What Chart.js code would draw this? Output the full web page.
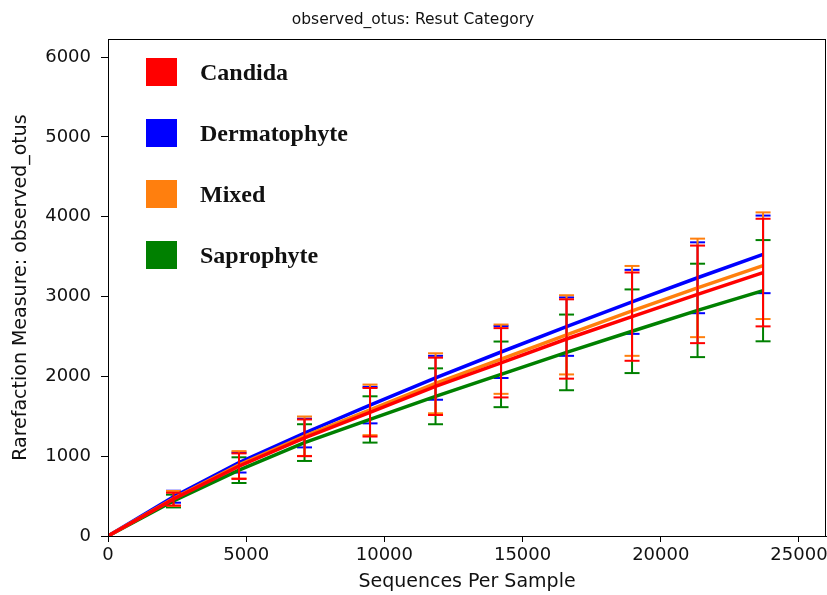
<!DOCTYPE html>
<html>
<head>
<meta charset="utf-8">
<script src="https://cdn.jsdelivr.net/npm/chart.js@4.4.0/dist/chart.umd.min.js"></script>
<style>
  body { margin: 0; background: #fff; }
  #wrap { position: relative; width: 827px; height: 595px; }
  #legend { position: absolute; left: 146px; top: 58px; font: bold 24px "Liberation Serif", "Times New Roman", serif; color: #111; }
  .row { position: absolute; left: 0; height: 28px; white-space: nowrap; }
  .sw { position: absolute; left: 0; top: 0; width: 31px; height: 28px; }
  .lb { position: absolute; left: 54px; top: 0; line-height: 28px; }
</style>
</head>
<body>
<div id="wrap">
  <canvas id="myChart" width="827" height="595"></canvas>
  <div id="legend"></div>
</div>
<script>
// rarefaction curves, one per result category, mean +/- error at each depth
var depths = [0, 2370, 4740, 7110, 9480, 11850, 14220, 16590, 18960, 21330, 23700];

var labels = ["Candida", "Dermatophyte", "Mixed", "Saprophyte"];
var colors = ["#ff0000", "#0000ff", "#ff7f0e", "#008000"];

var candidaMean = [0, 462, 875, 1230, 1550, 1875, 2170, 2468, 2748, 3027, 3300];
var candidaErr = [0, 80, 160, 230, 304, 359, 434, 497, 553, 611, 674];

var dermatophyteMean = [0, 492, 920, 1290, 1640, 1982, 2305, 2623, 2933, 3235, 3528];
var dermatophyteErr = [0, 75, 125, 180, 229, 275, 326, 366, 401, 444, 486];

var mixedMean = [0, 470, 892, 1250, 1580, 1913, 2215, 2520, 2820, 3108, 3386];
var mixedErr = [0, 94, 171, 247, 317, 376, 434, 496, 563, 617, 668];

var saprophyteMean = [0, 438, 825, 1170, 1460, 1750, 2025, 2300, 2565, 2826, 3073];
var saprophyteErr = [0, 80, 161, 230, 290, 350, 411, 474, 524, 585, 634];

var xTicks = [0, 5000, 10000, 15000, 20000, 25000];
var yTicks = [0, 1000, 2000, 3000, 4000, 5000, 6000];

var means = [candidaMean, dermatophyteMean, mixedMean, saprophyteMean];
var errs = [candidaErr, dermatophyteErr, mixedErr, saprophyteErr];

// draw order: lower = on top
var lineOrder = [1, 3, 2, 4];
var barOrder = [0, 6, 5, 7];

function meanPoints(m) {
	var pts = [];
	for (let i = 0; i < depths.length; i++) pts.push({x: depths[i], y: m[i]});
	return pts;
}

// vertical error segments, broken by null so each depth is its own piece
function errPoints(m, e) {
	var pts = [];
	for (let i = 1; i < depths.length; i++) {
		pts.push({x: depths[i], y: m[i] - e[i]});
		pts.push({x: depths[i], y: m[i] + e[i]});
		pts.push({x: depths[i], y: null});
	}
	return pts;
}

var datasets = [];
for (let s = 0; s < labels.length; s++) {
	datasets.push({
		label: labels[s],
		data: meanPoints(means[s]),
		borderColor: colors[s],
		backgroundColor: colors[s],
		borderWidth: 3.5,
		pointRadius: 0,
		tension: 0,
		fill: false,
		order: lineOrder[s]
	});
	datasets.push({
		label: labels[s] + " err",
		data: errPoints(means[s], errs[s]),
		borderColor: colors[s],
		backgroundColor: colors[s],
		borderWidth: 2,
		pointStyle: 'line',
		pointRadius: 7.5,
		pointBorderWidth: 2,
		pointBorderColor: colors[s],
		spanGaps: false,
		fill: false,
		order: barOrder[s]
	});
}

// legend inside the plot, built from the labels
var legend = document.getElementById('legend');
for (let s = 0; s < labels.length; s++) {
	const row = document.createElement('div');
	row.className = 'row';
	row.style.top = (s * 61) + 'px';
	const sw = document.createElement('div');
	sw.className = 'sw';
	sw.style.background = colors[s];
	const lb = document.createElement('div');
	lb.className = 'lb';
	lb.textContent = labels[s];
	row.appendChild(sw);
	row.appendChild(lb);
	legend.appendChild(row);
}

const frame = {
	id: 'frame',
	afterDraw(chart) {
		const a = chart.chartArea;
		const ctx = chart.ctx;
		ctx.save();
		ctx.strokeStyle = '#000';
		ctx.lineWidth = 1;
		ctx.strokeRect(a.left + 0.5, a.top + 0.5, a.right - a.left - 1, a.bottom - a.top);
		ctx.restore();
	}
};

var tickFont = {family: "DejaVu Sans", size: 18};
var titleFont = {family: "DejaVu Sans", size: 19};

new Chart(document.getElementById('myChart'), {
	type: 'line',
	data: {datasets: datasets},
	plugins: [frame],
	options: {
		responsive: false,
		animation: false,
		layout: {autoPadding: false, padding: {left: 0, right: 1, top: 0, bottom: 0}},
		plugins: {
			legend: {display: false},
			tooltip: {enabled: false},
			title: {
				display: true,
				text: "observed_otus: Resut Category",
				color: '#111',
				font: {family: "DejaVu Sans", size: 15.5, weight: 'normal'},
				padding: {top: 11, bottom: 9.4}
			}
		},
		scales: {
			x: {
				type: 'linear',
				min: 0,
				max: 25977,
				afterBuildTicks: (sc) => { sc.ticks = xTicks.map(v => ({value: v})); },
				afterFit: (sc) => { sc.height = 59; sc.paddingRight = 0; },
				ticks: {color: '#111', font: tickFont, padding: 3, maxRotation: 0, autoSkip: false, callback: (v) => String(v)},
				grid: {drawOnChartArea: false, drawTicks: true, tickLength: 6, color: '#000'},
				border: {color: '#000', width: 1},
				title: {display: true, text: "Sequences Per Sample", color: '#111', font: titleFont, padding: {top: 0, bottom: 1.6}}
			},
			y: {
				min: 0,
				max: 6226,
				afterBuildTicks: (sc) => { sc.ticks = yTicks.map(v => ({value: v})); },
				afterFit: (sc) => { sc.width = 108; },
				ticks: {color: '#111', font: tickFont, padding: 10, autoSkip: false, callback: (v) => String(v)},
				grid: {drawOnChartArea: false, drawTicks: true, tickLength: 7, color: '#000'},
				border: {color: '#000', width: 1},
				title: {display: true, text: "Rarefaction Measure: observed_otus", color: '#111', font: titleFont, padding: {top: 9.6, bottom: 0}}
			}
		}
	}
});
</script>
</body>
</html>
